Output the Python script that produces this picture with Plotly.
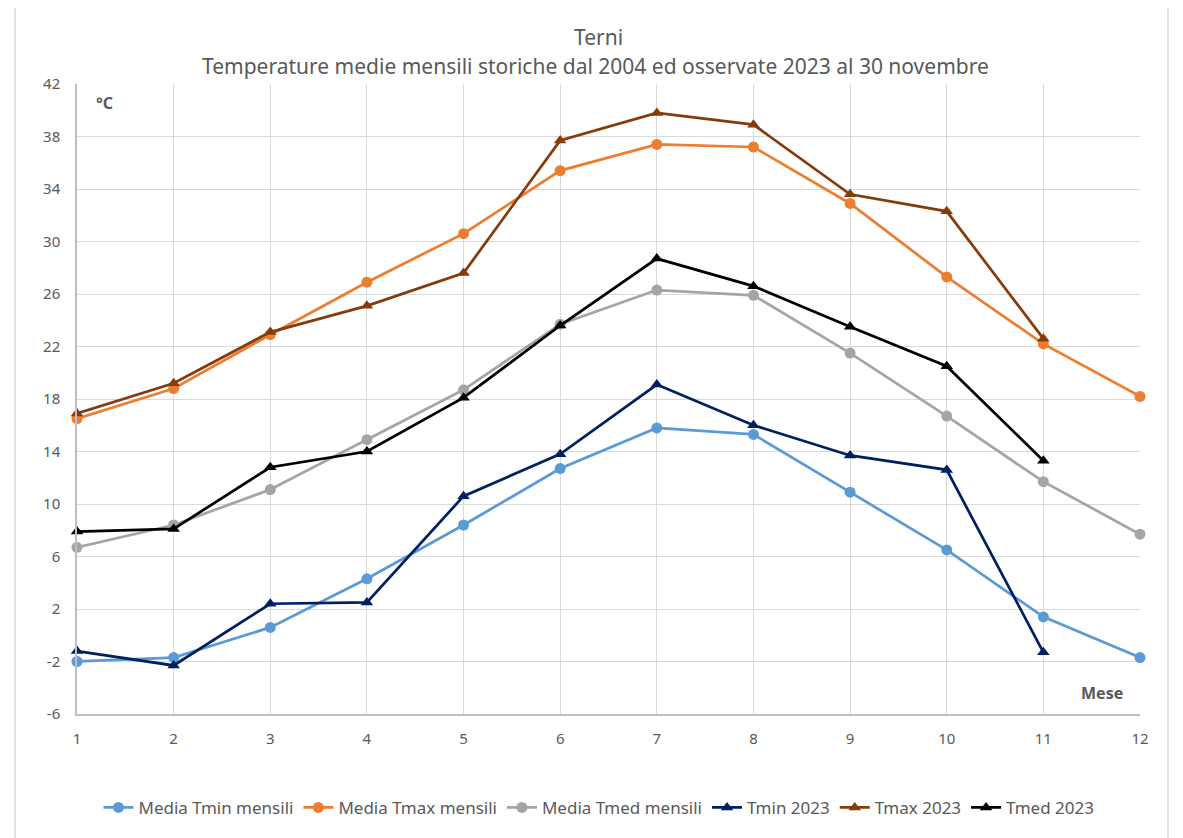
import plotly.graph_objects as go

mesi = list(range(1, 13))
media_tmin = [-2.0, -1.7, 0.6, 4.3, 8.4, 12.7, 15.8, 15.3, 10.9, 6.5, 1.4, -1.7]
media_tmax = [16.5, 18.8, 22.9, 26.9, 30.6, 35.4, 37.4, 37.2, 32.9, 27.3, 22.2, 18.2]
media_tmed = [6.7, 8.4, 11.1, 14.9, 18.7, 23.7, 26.3, 25.9, 21.5, 16.7, 11.7, 7.7]
mesi_2023 = list(range(1, 12))
tmin_2023 = [-1.2, -2.3, 2.4, 2.5, 10.6, 13.8, 19.1, 16.0, 13.7, 12.6, -1.3]
tmax_2023 = [16.9, 19.2, 23.1, 25.1, 27.6, 37.7, 39.8, 38.9, 33.6, 32.3, 22.6]
tmed_2023 = [7.9, 8.1, 12.8, 14.0, 18.1, 23.6, 28.7, 26.6, 23.5, 20.5, 13.3]

y_ticks = list(range(-6, 43, 4))

FONT = "Noto Sans"
GREY = "#595959"

fig = go.Figure()

series = [
    ("Media Tmin mensili", mesi, media_tmin, "#5B9BD5", "circle"),
    ("Media Tmax mensili", mesi, media_tmax, "#ED7D31", "circle"),
    ("Media Tmed mensili", mesi, media_tmed, "#A5A5A5", "circle"),
    ("Tmin 2023", mesi_2023, tmin_2023, "#002060", "triangle-up"),
    ("Tmax 2023", mesi_2023, tmax_2023, "#843C0C", "triangle-up"),
    ("Tmed 2023", mesi_2023, tmed_2023, "#000000", "triangle-up"),
]
for name, x, y, col, sym in series:
    fig.add_trace(go.Scatter(
        x=x, y=y, name=name, mode="lines+markers", cliponaxis=False,
        line=dict(color=col, width=2.75),
        marker=dict(color=col, symbol=sym, size=11),
    ))

PW, PH = 1063, 632  # plot area size in px

fig.update_layout(
    width=1175, height=830,
    margin=dict(l=69, r=43, t=76, b=122),
    paper_bgcolor="white", plot_bgcolor="white",
    font=dict(family=FONT, color=GREY, size=15),
    showlegend=True,
    legend=dict(orientation="h", x=(599 - 77) / PW, xanchor="center", y=-0.149, yanchor="middle",
                font=dict(size=17, color=GREY), traceorder="normal"),
    xaxis=dict(range=[1, 12], tickmode="array", tickvals=mesi, ticktext=[str(m) for m in mesi],
               showgrid=True, gridcolor="#D9D9D9", gridwidth=1,
               showline=True, linecolor="#BFBFBF", linewidth=1.5, zeroline=False,
               tickfont=dict(size=15, color=GREY), ticks="", ticklabelstandoff=10),
    yaxis=dict(range=[-6, 42], tickmode="array", tickvals=y_ticks, ticktext=[str(v) for v in y_ticks],
               showgrid=True, gridcolor="#D9D9D9", gridwidth=1,
               showline=True, linecolor="#BFBFBF", linewidth=1.5, zeroline=False,
               tickfont=dict(size=15, color=GREY), ticks="", ticklabelstandoff=12),
    annotations=[
        dict(text="Terni", xref="paper", yref="paper", x=(598 - 77) / PW, y=(716 - 37) / PH,
             showarrow=False, font=dict(size=21, color=GREY), xanchor="center", yanchor="middle"),
        dict(text="Temperature medie mensili storiche dal 2004 ed osservate 2023 al 30 novembre",
             xref="paper", yref="paper", x=(595 - 77) / PW, y=(716 - 66) / PH,
             showarrow=False, font=dict(size=21, color=GREY), xanchor="center", yanchor="middle"),
        dict(text="<b>°C</b>", xref="paper", yref="paper", x=(104 - 77) / PW, y=(716 - 103) / PH,
             showarrow=False, font=dict(size=16, color=GREY), xanchor="center", yanchor="middle"),
        dict(text="<b>Mese</b>", xref="paper", yref="paper", x=(1102 - 77) / PW, y=(716 - 695) / PH,
             showarrow=False, font=dict(size=16, color=GREY), xanchor="center", yanchor="middle"),
    ],
    shapes=[
        dict(type="rect", xref="paper", yref="paper",
             x0=(15 - 77) / PW, x1=(1168 - 77) / PW,
             y0=(716 - 845) / PH, y1=(716 - 5) / PH,
             line=dict(color="#D9D9D9", width=1.5), layer="below"),
    ],
)

fig.write_html("out.html")
